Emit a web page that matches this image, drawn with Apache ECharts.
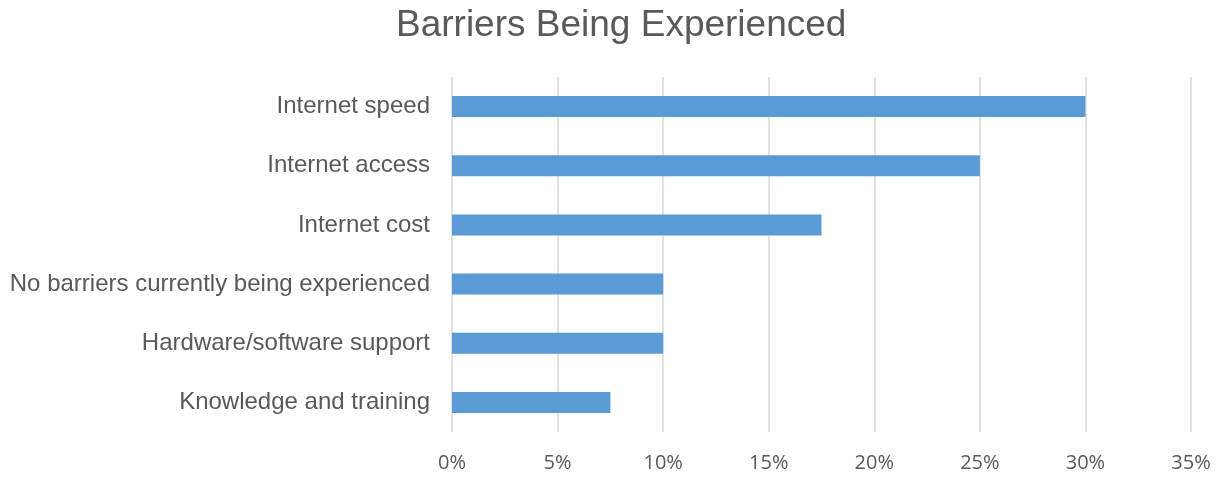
<!DOCTYPE html>
<html>
<head>
<meta charset="utf-8">
<script src="https://cdn.jsdelivr.net/npm/echarts@6/dist/echarts.min.js"></script>
<style>
  html, body { margin: 0; padding: 0; background: #fff; }
  #chart { width: 1217px; height: 477px; }
</style>
</head>
<body>
<div id="chart"></div>
<script>
// Barriers, listed bottom to top as the category axis draws them
const categories = [
  'Knowledge and training',
  'Hardware/software support',
  'No barriers currently being experienced',
  'Internet cost',
  'Internet access',
  'Internet speed'
];
// Share of respondents (%)
const shares = [7.5, 10, 10, 17.5, 25, 30];
const axisMax = 35;
const axisStep = 5;

const chart = echarts.init(document.getElementById('chart'));
chart.setOption({
  animation: false,
  title: {
    text: 'Barriers Being Experienced',
    left: 391,
    top: 2,
    textStyle: {
      fontFamily: 'Liberation Sans, Arial, sans-serif',
      fontSize: 37,
      fontWeight: 'normal',
      color: '#595959'
    }
  },
  grid: { left: 452, right: 26, top: 77, bottom: 45 },
  xAxis: {
    type: 'value',
    min: 0,
    max: axisMax,
    interval: axisStep,
    axisLine: { show: false },
    axisTick: { show: false },
    splitLine: { lineStyle: { color: '#d9d9d9', width: 1.5 } },
    axisLabel: {
      formatter: v => v + '%',
      margin: 21,
      fontFamily: 'Open Sans, Liberation Sans, sans-serif',
      fontSize: 20,
      color: '#595959'
    }
  },
  yAxis: {
    type: 'category',
    data: categories,
    axisLine: { show: false },
    axisTick: { show: false },
    axisLabel: {
      margin: 22,
      fontFamily: 'Liberation Sans, Arial, sans-serif',
      fontSize: 24,
      color: '#595959'
    }
  },
  series: [{
    type: 'bar',
    data: shares,
    barWidth: 21,
    itemStyle: { color: '#5b9bd5' }
  }]
});
</script>
</body>
</html>
